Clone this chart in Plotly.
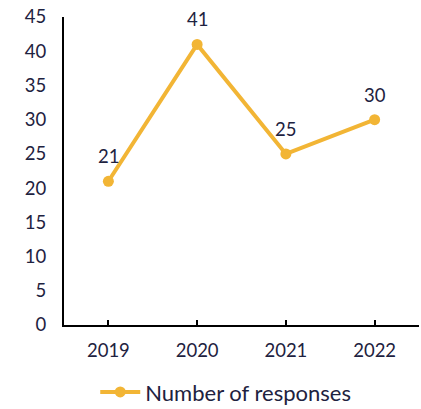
import plotly.graph_objects as go

years = ["2019", "2020", "2021", "2022"]
responses = [21, 41, 25, 30]
y_ticks = [0, 5, 10, 15, 20, 25, 30, 35, 40, 45]

line_color = "#F2B535"
text_color = "#1E2240"
font_family = "Lato, Carlito, 'Open Sans', sans-serif"
label_size = 18.5

x_pos = list(range(len(years)))

fig = go.Figure()
fig.add_trace(go.Scatter(
    x=x_pos,
    y=responses,
    mode="lines+markers",
    name="Number of responses",
    line=dict(color=line_color, width=4),
    marker=dict(color=line_color, size=11),
))

# value labels above each point
for xi, v in zip(x_pos, responses):
    fig.add_annotation(
        x=xi, y=v, text=str(v), showarrow=False,
        yshift=25, yanchor="middle", xanchor="center",
        font=dict(size=label_size, color=text_color, family=font_family),
    )

fig.update_layout(
    width=421,
    height=409,
    margin=dict(l=64, r=2, t=17, b=84, autoexpand=False),
    paper_bgcolor="white",
    plot_bgcolor="white",
    font=dict(family=font_family, size=label_size, color=text_color),
    showlegend=True,
    legend=dict(
        orientation="h",
        x=0.088, xanchor="left",
        y=-0.218, yanchor="middle",
        font=dict(size=22, color=text_color),
        itemwidth=40,
    ),
    xaxis=dict(
        range=[-0.5, 3.5],
        tickvals=x_pos + [3.5],
        ticktext=years + [""],
        ticks="inside",
        ticklen=5,
        tickwidth=2,
        tickcolor="black",
        showline=True,
        linecolor="black",
        linewidth=2,
        showgrid=False,
        zeroline=False,
        automargin=False,
        tickfont=dict(size=label_size),
        ticklabelstandoff=8,
    ),
    yaxis=dict(
        range=[0, 45],
        tickvals=y_ticks,
        showline=True,
        linecolor="black",
        linewidth=2,
        showgrid=False,
        zeroline=False,
        automargin=False,
        ticks="",
        tickfont=dict(size=label_size),
        ticklabelstandoff=12,
    ),
)

fig.write_html("out.html")
